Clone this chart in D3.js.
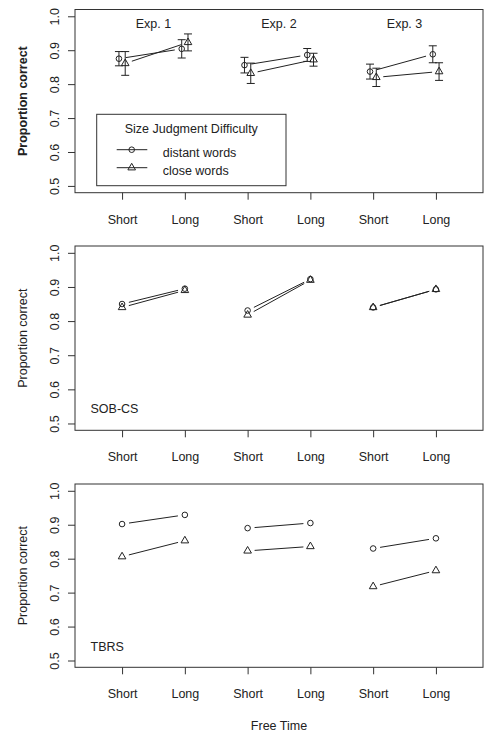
<!DOCTYPE html>
<html>
<head>
<meta charset="utf-8">
<script src="https://cdn.jsdelivr.net/npm/d3@7"></script>
<style>
  html, body { margin: 0; padding: 0; background: #fff; }
  svg { display: block; font-family: "Liberation Sans", Arial, Helvetica, sans-serif; }
</style>
</head>
<body>
<svg id="chart" width="485" height="732"></svg>
<script>
// ---------- data ----------
const experiments = ["Exp. 1", "Exp. 2", "Exp. 3"];
const xTickLabels = ["Short", "Long", "Short", "Long", "Short", "Long"];
const yTicks = [0.5, 0.6, 0.7, 0.8, 0.9, 1.0];
const seriesNames = ["distant words", "close words"];

// Panel 1: empirical data (Exp. 1-3), Short/Long free time
const expDistant   = [0.875, 0.904, 0.856, 0.886, 0.837, 0.888];
const expDistantSE = [0.021, 0.027, 0.023, 0.019, 0.022, 0.025];
const expClose     = [0.861, 0.923, 0.832, 0.872, 0.820, 0.837];
const expCloseSE   = [0.035, 0.025, 0.030, 0.019, 0.027, 0.026];

// Panel 2: SOB-CS model
const sobDistant = [0.850, 0.895, 0.831, 0.923, 0.840, 0.893];
const sobClose   = [0.840, 0.890, 0.818, 0.920, 0.840, 0.893];

// Panel 3: TBRS model
const tbrsDistant = [0.902, 0.929, 0.890, 0.905, 0.830, 0.860];
const tbrsClose   = [0.806, 0.853, 0.823, 0.836, 0.718, 0.765];

// ---------- layout ----------
const ink = "#222";
const fs = 12.5;
const boxLeft = 75, boxRight = 483;
const panels = [
  { top: 9.5, bottom: 192.7, distant: expDistant, close: expClose,
    dSE: expDistantSE, cSE: expCloseSE, dodge: 0.05, boldTitle: true, tag: null },
  { top: 246, bottom: 430.3, distant: sobDistant, close: sobClose,
    dSE: null, cSE: null, dodge: 0, boldTitle: false, tag: "SOB-CS" },
  { top: 484, bottom: 667.3, distant: tbrsDistant, close: tbrsClose,
    dSE: null, cSE: null, dodge: 0, boldTitle: false, tag: "TBRS" }
];

const svg = d3.select("#chart");
const x = d3.scaleLinear().domain([0.25, 6.75]).range([boxLeft, boxRight]);

const circleR = 2.8;
const triR = 4.4;
function triPath(cx, cy, R) {
  const h = R * Math.sqrt(3) / 2;
  return `M${cx},${cy - R}L${cx + h},${cy + R / 2}L${cx - h},${cy + R / 2}Z`;
}
function drawSymbol(g, kind, cx, cy) {
  if (kind === 0) {
    g.append("circle").attr("cx", cx).attr("cy", cy).attr("r", circleR)
      .attr("fill", "none").attr("stroke", ink).attr("stroke-width", 1);
  } else {
    g.append("path").attr("d", triPath(cx, cy, triR))
      .attr("fill", "none").attr("stroke", ink).attr("stroke-width", 1);
  }
}

const gap = 7;
panels.forEach((p) => {
  const y = d3.scaleLinear().domain([0.48, 1.02]).range([p.bottom, p.top]);
  const g = svg.append("g");

  // box
  g.append("rect").attr("x", boxLeft).attr("y", p.top)
    .attr("width", boxRight - boxLeft).attr("height", p.bottom - p.top)
    .attr("fill", "none").attr("stroke", "#333").attr("stroke-width", 1);

  // x axis
  const xAxis = d3.axisBottom(x).tickValues(d3.range(1, 7))
    .tickFormat((d, i) => xTickLabels[i]).tickSize(7).tickPadding(0);
  const gx = g.append("g").attr("transform", `translate(0,${p.bottom})`).call(xAxis);
  gx.select(".domain").remove();
  gx.selectAll(".tick line").attr("stroke", "#333");
  gx.selectAll(".tick text").attr("y", 31).attr("dy", 0)
    .attr("font-size", fs).attr("fill", ink).attr("font-family", null);

  // y axis
  const yAxis = d3.axisLeft(y).tickValues(yTicks).tickFormat(d3.format(".1f")).tickSize(7);
  const gy = g.append("g").attr("transform", `translate(${boxLeft},0)`).call(yAxis);
  gy.select(".domain").remove();
  gy.selectAll(".tick line").attr("stroke", "#333");
  gy.selectAll(".tick text").attr("transform", "rotate(-90)")
    .attr("x", 0).attr("y", -16).attr("dy", 0)
    .attr("text-anchor", "middle")
    .attr("font-size", fs).attr("fill", ink).attr("font-family", null);

  // y title
  const midY = (y(0.5) + y(1.0)) / 2;
  g.append("text").attr("transform", `translate(27,${midY}) rotate(-90)`)
    .attr("text-anchor", "middle").attr("font-size", fs)
    .attr("font-weight", p.boldTitle ? "bold" : "normal")
    .attr("fill", ink).text("Proportion correct");

  // series
  [p.distant, p.close].forEach((vals, s) => {
    const off = p.dodge === 0 ? 0 : (s === 0 ? -p.dodge : p.dodge);
    const se = s === 0 ? p.dSE : p.cSE;
    for (let k = 0; k < vals.length; k += 2) {
      const x1 = x(k + 1 + off), y1 = y(vals[k]);
      const x2 = x(k + 2 + off), y2 = y(vals[k + 1]);
      const dx = x2 - x1, dy = y2 - y1, len = Math.hypot(dx, dy);
      const ux = dx / len, uy = dy / len;
      g.append("line")
        .attr("x1", x1 + ux * gap).attr("y1", y1 + uy * gap)
        .attr("x2", x2 - ux * gap).attr("y2", y2 - uy * gap)
        .attr("stroke", ink).attr("stroke-width", 1);
    }
    vals.forEach((v, i) => {
      const cx = x(i + 1 + off), cy = y(v);
      if (se) {
        const hi = y(v + se[i]), lo = y(v - se[i]);
        g.append("line").attr("x1", cx).attr("x2", cx).attr("y1", hi).attr("y2", lo)
          .attr("stroke", ink).attr("stroke-width", 1);
        [hi, lo].forEach(yy => g.append("line").attr("x1", cx - 4).attr("x2", cx + 4)
          .attr("y1", yy).attr("y2", yy).attr("stroke", ink).attr("stroke-width", 1));
      }
      drawSymbol(g, s, cx, cy);
    });
  });

  // panel tag
  if (p.tag) {
    g.append("text").attr("x", 90.5).attr("y", y(0.5) - 10)
      .attr("font-size", fs).attr("fill", ink).text(p.tag);
  }

  // experiment labels & legend in top panel
  if (p.boldTitle) {
    experiments.forEach((e, i) => {
      g.append("text").attr("x", (x(2 * i + 1) + x(2 * i + 2)) / 2).attr("y", 28)
        .attr("text-anchor", "middle").attr("font-size", fs).attr("fill", ink).text(e);
    });
    const lg = g.append("g");
    lg.append("rect").attr("x", 96.7).attr("y", 114.3).attr("width", 189.3).attr("height", 71.4)
      .attr("fill", "#fff").attr("stroke", "#333").attr("stroke-width", 1);
    lg.append("text").attr("x", 191.3).attr("y", 133).attr("text-anchor", "middle")
      .attr("font-size", fs).attr("fill", ink).text("Size Judgment Difficulty");
    seriesNames.forEach((nm, s) => {
      const ly = s === 0 ? 149.7 : 167.7;
      lg.append("line").attr("x1", 116.7).attr("x2", 147.3).attr("y1", ly).attr("y2", ly)
        .attr("stroke", ink).attr("stroke-width", 1);
      drawSymbol(lg, s, 131.7, ly);
      lg.append("text").attr("x", 162.7).attr("y", ly + 7.6)
        .attr("font-size", fs).attr("fill", ink).text(nm);
    });
  }
});

// x title
svg.append("text").attr("x", (boxLeft + boxRight) / 2).attr("y", 729.5)
  .attr("text-anchor", "middle").attr("font-size", fs).attr("fill", ink).text("Free Time");
</script>
</body>
</html>
